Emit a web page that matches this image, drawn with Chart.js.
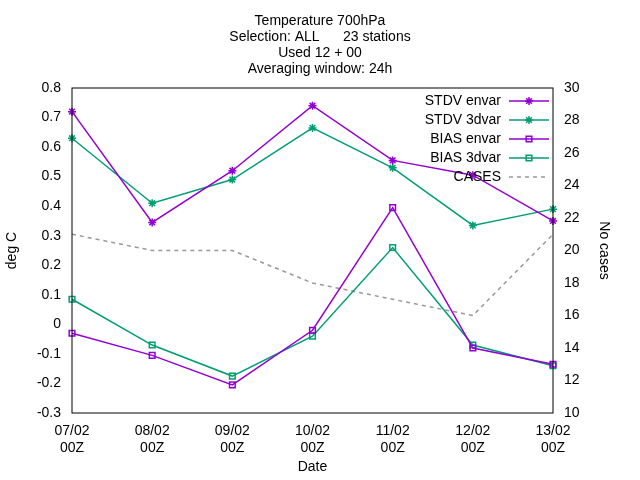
<!DOCTYPE html>
<html><head><script src="https://cdn.jsdelivr.net/npm/chart.js@4"></script>
<style>body{margin:0}</style></head>
<body><canvas id="c" width="640" height="480"></canvas>
<script>
const dates = [['07/02','00Z'],['08/02','00Z'],['09/02','00Z'],['10/02','00Z'],['11/02','00Z'],['12/02','00Z'],['13/02','00Z']];
const stdvEnvar = [0.72, 0.345, 0.52, 0.74, 0.555, 0.505, 0.35];
const stdv3dvar = [0.63, 0.41, 0.49, 0.665, 0.53, 0.335, 0.39];
const biasEnvar = [-0.03, -0.105, -0.205, -0.02, 0.395, -0.08, -0.135];
const bias3dvar = [0.085, -0.07, -0.175, -0.04, 0.26, -0.07, -0.14];
const cases = [21, 20, 20, 18, 17, 16, 21];
const titleLines = ['Temperature 700hPa', 'Selection: ALL      23 stations', 'Used 12 + 00', 'Averaging window: 24h'];

const PURPLE = '#9400d3', GREEN = '#009e73', GREY = '#999999';
const FONT = 'Liberation Sans, Arial, sans-serif';
Chart.defaults.font.family = FONT;
Chart.defaults.font.size = 14;
Chart.defaults.color = '#000';

function ds(label, data, color, style, axis) {
  return {label, data, borderColor: color, backgroundColor: 'transparent', pointStyle: style,
    pointRadius: 4, pointBorderWidth: 1.5, borderWidth: 1.5, yAxisID: axis || 'y', tension: 0};
}
const sets = [
  ds('STDV envar', stdvEnvar, PURPLE, 'star'),
  ds('STDV 3dvar', stdv3dvar, GREEN, 'star'),
  ds('BIAS envar', biasEnvar, PURPLE, 'rect'),
  ds('BIAS 3dvar', bias3dvar, GREEN, 'rect'),
  Object.assign(ds('CASES', cases, GREY, false, 'y2'), {borderDash: [4, 4], pointRadius: 0})
];

const deco = {
  id: 'deco',
  afterDraw(chart) {
    const c = chart.ctx, a = chart.chartArea;
    c.save();
    c.strokeStyle = '#000'; c.lineWidth = 1;
    c.strokeRect(a.left, a.top, a.right - a.left, a.bottom - a.top);
    c.fillStyle = '#000'; c.font = '14px ' + FONT; c.textAlign = 'center'; c.textBaseline = 'middle';
    titleLines.forEach((t, i) => c.fillText(t, 320, 21 + i * 16));
    c.textAlign = 'right';
    sets.forEach((s, i) => {
      const y = a.top + 13 + i * 19;
      c.fillStyle = '#000';
      c.fillText(s.label, a.right - 52, y);
      c.strokeStyle = s.borderColor; c.lineWidth = 1.5;
      c.setLineDash(s.borderDash || []);
      c.beginPath(); c.moveTo(a.right - 44, y); c.lineTo(a.right - 4, y); c.stroke();
      c.setLineDash([]);
      if (s.pointStyle) {
        c.fillStyle = 'rgba(0,0,0,0)';
        Chart.helpers.drawPoint(c, {pointStyle: s.pointStyle, radius: 4, borderWidth: 1.5}, a.right - 24, y);
      }
    });
    c.restore();
  }
};

new Chart(document.getElementById('c'), {
  type: 'line',
  data: {labels: dates, datasets: sets},
  plugins: [deco],
  options: {
    responsive: false, animation: false,
    layout: {padding: {top: 88, left: 0, right: 24, bottom: 0}},
    plugins: {legend: {display: false}, title: {display: false}, tooltip: {enabled: false}},
    scales: {
      x: {offset: false, grid: {display: false}, border: {display: false},
        ticks: {maxRotation: 0, padding: 2},
        title: {display: true, text: 'Date', padding: 4},
        afterFit(s) { s.height = 67; }},
      y: {min: -0.3, max: 0.8, grid: {display: false}, border: {display: false},
        ticks: {stepSize: 0.1, callback: v => Math.round(v * 10) / 10},
        title: {display: true, text: 'deg C'},
        afterFit(s) { s.width = 72; }},
      y2: {position: 'right', min: 10, max: 30, grid: {display: false}, border: {display: false},
        ticks: {stepSize: 2},
        title: {display: true, text: 'No cases'},
        afterFit(s) { s.width = 63; }}
    }
  }
});
</script></body></html>
